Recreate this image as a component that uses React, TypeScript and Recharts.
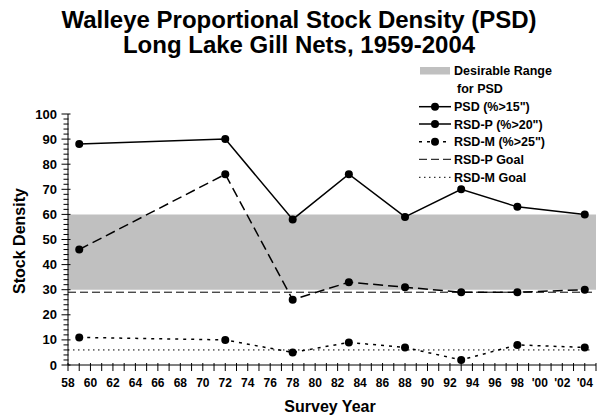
import React from "react";
import {
  LineChart,
  Line,
  XAxis,
  YAxis,
  ReferenceArea,
  ReferenceLine,
} from "recharts";

const years = [1959, 1972, 1978, 1983, 1988, 1993, 1998, 2004];
const psd = [88, 90, 58, 76, 59, 70, 63, 60];
const rsdP = [46, 76, 26, 33, 31, 29, 29, 30];
const rsdM = [11, 10, 5, 9, 7, 2, 8, 7];

const rsdPGoal = 29;
const rsdMGoal = 6;
const desirableRange = [30, 60];

const xTicks: number[] = [];
for (let y = 1958; y <= 2005; y++) xTicks.push(y);
const yTicks: number[] = [];
for (let v = 0; v <= 100; v += 2) yTicks.push(v);

const titleLines = [
  "Walleye Proportional Stock Density (PSD)",
  "Long Lake Gill Nets, 1959-2004",
];
const legendLabels = [
  "Desirable Range",
  "for PSD",
  "PSD (%>15\")",
  "RSD-P (%>20\")",
  "RSD-M (%>25\")",
  "RSD-P Goal",
  "RSD-M Goal",
];

const data = years.map((yr, i) => ({
  year: yr,
  psd: psd[i],
  rsdP: rsdP[i],
  rsdM: rsdM[i],
}));

const FONT = "Liberation Sans, Arial, sans-serif";

const renderXTick = (props: any) => {
  const { x, y, payload, index } = props;
  const v = payload.value as number;
  const show = v % 2 === 0 && v <= 2004;
  const label = v >= 2000 ? "'" + String(v % 100).padStart(2, "0") : String(v % 100);
  return (
    <g key={"xt" + index}>
      <line x1={x} x2={x} y1={y - 4} y2={y + 4} stroke="#000" strokeWidth={1} />
      {show && (
        <text
          x={x}
          y={y + 20}
          textAnchor="middle"
          style={{ fontFamily: FONT, fontWeight: 700, fontSize: 12 }}
          fill="#000"
        >
          {label}
        </text>
      )}
    </g>
  );
};

const renderYTick = (props: any) => {
  const { x, y, payload, index } = props;
  const v = payload.value as number;
  const major = v % 10 === 0;
  return (
    <g key={"yt" + index}>
      {major ? (
        <line x1={x - 4.5} x2={x + 4.5} y1={y} y2={y} stroke="#000" strokeWidth={1} />
      ) : (
        <line x1={x - 2.5} x2={x + 2.5} y1={y} y2={y} stroke="#000" strokeWidth={1} />
      )}
      {major && (
        <text
          x={x - 9}
          y={y + 4.5}
          textAnchor="end"
          style={{ fontFamily: FONT, fontWeight: 700, fontSize: 13 }}
          fill="#000"
        >
          {v}
        </text>
      )}
    </g>
  );
};

const renderDot = (props: any) => {
  const { cx, cy, index } = props;
  if (cx == null || cy == null) return <g key={"d" + index} />;
  return <circle key={"d" + index} cx={cx} cy={cy} r={4} fill="#000" stroke="none" />;
};

const LegendBox = () => {
  const sx1 = 419;
  const sx2 = 451;
  const tx = 454;
  const rows = [70.7, 88.3, 106.7, 124, 141.7, 159.3, 177.3];
  const textStyle = { fontFamily: FONT, fontWeight: 700, fontSize: 12.5 };
  const mid = (sx1 + sx2) / 2;
  return (
    <svg
      width={602}
      height={419}
      style={{ position: "absolute", left: 0, top: 0, pointerEvents: "none" }}
    >
      <rect x={420} y={67} width={30} height={7.5} fill="#c0c0c0" />
      <text x={tx} y={rows[0] + 4.5} style={textStyle} fill="#000">{legendLabels[0]}</text>
      <text x={tx + 3} y={rows[1] + 4.5} style={textStyle} fill="#000">{legendLabels[1]}</text>

      <line x1={sx1} x2={sx2} y1={rows[2]} y2={rows[2]} stroke="#000" strokeWidth={1.5} />
      <circle cx={mid} cy={rows[2]} r={4} fill="#000" />
      <text x={tx} y={rows[2] + 4.5} style={textStyle} fill="#000">{legendLabels[2]}</text>

      <line x1={sx1} x2={sx2} y1={rows[3]} y2={rows[3]} stroke="#000" strokeWidth={1.5} />
      <circle cx={mid} cy={rows[3]} r={4} fill="#000" />
      <text x={tx} y={rows[3] + 4.5} style={textStyle} fill="#000">{legendLabels[3]}</text>

      <line x1={sx1} x2={sx2} y1={rows[4]} y2={rows[4]} stroke="#000" strokeWidth={1.5} strokeDasharray="3 5" />
      <circle cx={mid} cy={rows[4]} r={4} fill="#000" />
      <text x={tx} y={rows[4] + 4.5} style={textStyle} fill="#000">{legendLabels[4]}</text>

      <line x1={sx1} x2={sx2} y1={rows[5]} y2={rows[5]} stroke="#000" strokeWidth={1} strokeDasharray="8 4" />
      <text x={tx} y={rows[5] + 4.5} style={textStyle} fill="#000">{legendLabels[5]}</text>

      <line x1={sx1} x2={sx2} y1={rows[6]} y2={rows[6]} stroke="#000" strokeWidth={1} strokeDasharray="1.5 3.5" />
      <text x={tx} y={rows[6] + 4.5} style={textStyle} fill="#000">{legendLabels[6]}</text>
    </svg>
  );
};

export default function App() {
  return (
    <div
      style={{
        position: "absolute",
        left: 0,
        top: 0,
        width: 602,
        height: 419,
        background: "#fff",
        fontFamily: FONT,
      }}
    >
      <LineChart
        width={602}
        height={419}
        data={data}
        margin={{ top: 114, right: 6, left: 0, bottom: 24 }}
      >
        <ReferenceArea
          x1={1958}
          x2={2005}
          y1={desirableRange[0]}
          y2={desirableRange[1]}
          fill="#c0c0c0"
          fillOpacity={1}
          stroke="none"
          ifOverflow="visible"
        />
        <XAxis
          dataKey="year"
          type="number"
          domain={[1958, 2005]}
          ticks={xTicks}
          interval={0}
          tickSize={0}
          tickLine={false}
          tick={renderXTick}
          height={30}
          axisLine={{ stroke: "#000", strokeWidth: 1 }}
        />
        <YAxis
          type="number"
          domain={[0, 100]}
          ticks={yTicks}
          interval={0}
          tickSize={0}
          tickLine={false}
          tick={renderYTick}
          width={68}
          axisLine={{ stroke: "#000", strokeWidth: 1 }}
        />
        <ReferenceLine
          segment={[
            { x: 1958, y: rsdPGoal },
            { x: 2004.7, y: rsdPGoal },
          ]}
          stroke="#000"
          strokeWidth={1}
          strokeDasharray="8 4"
          ifOverflow="visible"
        />
        <ReferenceLine
          segment={[
            { x: 1958, y: rsdMGoal },
            { x: 2004.7, y: rsdMGoal },
          ]}
          stroke="#000"
          strokeWidth={1}
          strokeDasharray="1.5 3.5"
          ifOverflow="visible"
        />
        <Line
          dataKey="psd"
          stroke="#000"
          strokeWidth={1.5}
          dot={renderDot}
          isAnimationActive={false}
        />
        <Line
          dataKey="rsdP"
          stroke="#000"
          strokeWidth={1.5}
          strokeDasharray="10 5"
          dot={renderDot}
          isAnimationActive={false}
        />
        <Line
          dataKey="rsdM"
          stroke="#000"
          strokeWidth={1.5}
          strokeDasharray="3 5"
          dot={renderDot}
          isAnimationActive={false}
        />
      </LineChart>

      <LegendBox />

      {titleLines.map((t, i) => (
        <div
          key={i}
          style={{
            position: "absolute",
            left: 0,
            width: 598,
            top: 6 + i * 25,
            textAlign: "center",
            fontSize: 24,
            fontWeight: "bold",
            lineHeight: "28px",
            color: "#000",
            whiteSpace: "nowrap",
          }}
        >
          {t}
        </div>
      ))}

      <div
        style={{
          position: "absolute",
          left: 330 - 100,
          width: 200,
          top: 397,
          textAlign: "center",
          fontSize: 16,
          fontWeight: "bold",
          lineHeight: "20px",
        }}
      >
        Survey Year
      </div>
      <div
        style={{
          position: "absolute",
          left: 20 - 100,
          top: 241 - 10,
          width: 200,
          height: 20,
          textAlign: "center",
          fontSize: 16,
          fontWeight: "bold",
          lineHeight: "20px",
          transform: "rotate(-90deg)",
          whiteSpace: "nowrap",
        }}
      >
        Stock Density
      </div>
    </div>
  );
}
